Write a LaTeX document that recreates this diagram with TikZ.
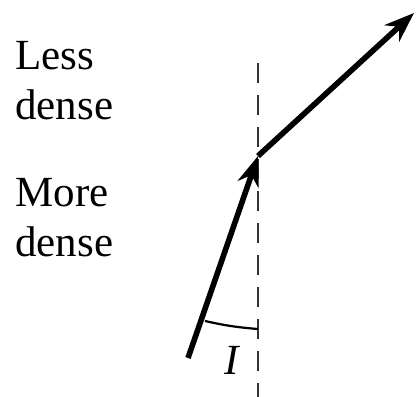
\documentclass[tikz,border=0pt]{standalone}
\usepackage{fontspec}
\setmainfont{Liberation Serif}
\usetikzlibrary{arrows.meta, positioning}
\tikzset{
  ray/.style={line width=2.8pt, -{Stealth[length=15pt, width=11pt]}},
  normalline/.style={line width=1.3pt, black!80, dash pattern=on 10pt off 6pt},
  medium/.style={font=\fontsize{21.5}{25}\selectfont, align=left, inner sep=0pt, anchor=base west}
}
\begin{document}
\begin{tikzpicture}[x=0.5pt, y=-0.5pt]
  \useasboundingbox (0,0) rectangle (419,397);
  % Labels for the two media
  \node[medium] (less) at (15,119) {Less\\dense};
  \node[medium] (more) at (15,256) {More\\dense};
  % Normal to the boundary
  \coordinate (ntop) at (258,63);
  \coordinate (nbot) at (258,397);
  \draw[normalline] (ntop) -- (nbot);
  % Incident ray and refracted ray
  \coordinate (src) at (188,358);
  \coordinate (hit) at (258,156);
  \coordinate (out) at (414,13);
  \draw[ray] (src) -- (hit);
  \draw[ray] (hit) -- (out);
  % Angle of incidence
  \coordinate (arcA) at (205,321);
  \coordinate (arcB) at (258,329);
  \draw[line width=1.1pt] (arcA) to[bend right=4] (arcB);
  \node[font=\fontsize{21.5}{25}\selectfont\itshape, inner sep=0pt, anchor=base] (angI) at (232,374) {I};
\end{tikzpicture}
\end{document}
